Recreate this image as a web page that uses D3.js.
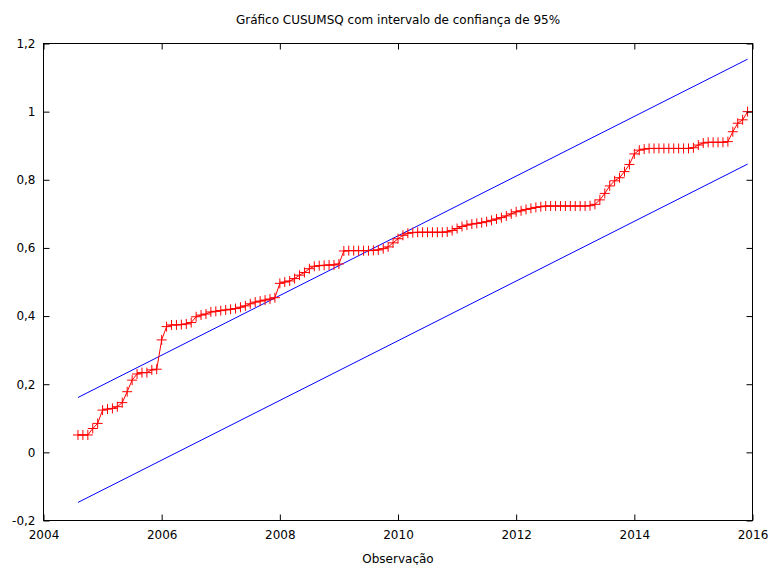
<!DOCTYPE html>
<html>
<head>
<meta charset="utf-8">
<script src="https://cdn.jsdelivr.net/npm/d3@7"></script>
<style>
  html, body { margin: 0; padding: 0; background: #fff; }
  svg { display: block; font-family: "DejaVu Sans", Verdana, sans-serif; }
</style>
</head>
<body>
<svg id="chart" width="774" height="565"></svg>
<script>
// CUSUMSQ statistic, monthly, from Aug 2004 to Dec 2015
const firstYear = 2004;
const firstMonth = 8;
const cusumsq = [
  0.051, 0.051, 0.051, 0.070, 0.085, 0.124, 0.127, 0.129, 0.134, 0.146,
  0.178, 0.212, 0.230, 0.234, 0.234, 0.242, 0.244, 0.330, 0.369, 0.374,
  0.374, 0.375, 0.377, 0.381, 0.398, 0.403, 0.406, 0.412, 0.414, 0.416,
  0.418, 0.420, 0.422, 0.426, 0.430, 0.436, 0.441, 0.444, 0.447, 0.450,
  0.454, 0.496, 0.500, 0.503, 0.510, 0.520, 0.528, 0.539, 0.546, 0.548,
  0.549, 0.550, 0.550, 0.553, 0.591, 0.592, 0.592, 0.592, 0.592, 0.592,
  0.593, 0.594, 0.598, 0.603, 0.615, 0.627, 0.637, 0.643, 0.645, 0.646,
  0.646, 0.646, 0.646, 0.646, 0.646, 0.647, 0.651, 0.657, 0.663, 0.667,
  0.670, 0.672, 0.674, 0.677, 0.681, 0.685, 0.689, 0.694, 0.700, 0.706,
  0.709, 0.713, 0.716, 0.719, 0.721, 0.723, 0.723, 0.723, 0.723, 0.723,
  0.723, 0.723, 0.723, 0.723, 0.724, 0.728, 0.741, 0.760, 0.782, 0.797,
  0.806, 0.824, 0.845, 0.876, 0.887, 0.890, 0.892, 0.892, 0.892, 0.892,
  0.892, 0.892, 0.892, 0.892, 0.892, 0.894, 0.902, 0.908, 0.910, 0.910,
  0.910, 0.910, 0.912, 0.941, 0.966, 0.976, 1.000
];
// 95% confidence band, values at the first and last observation
const upperBound = [0.161, 1.154];
const lowerBound = [-0.147, 0.846];

const xTicks = [2004, 2006, 2008, 2010, 2012, 2014, 2016];
const yTicks = [-0.2, 0, 0.2, 0.4, 0.6, 0.8, 1, 1.2];
const yTickLabels = ["-0,2", "0", "0,2", "0,4", "0,6", "0,8", "1", "1,2"];

const titleText = "Gráfico CUSUMSQ com intervalo de confiança de 95%";
const xTitle = "Observação";

// decimal-year time of each observation
const times = cusumsq.map((_, i) => firstYear + (firstMonth - 1 + i) / 12);
const series = cusumsq.map((v, i) => ({ t: times[i], v }));
const tFirst = times[0], tLast = times[times.length - 1];

const svg = d3.select("#chart");
const plotL = 43.5, plotR = 752.5, plotT = 43.5, plotB = 520.5;

const x = d3.scaleLinear().domain([2004, 2016]).range([plotL, plotR]);
const y = d3.scaleLinear().domain([-0.2, 1.2]).range([plotB, plotT]);
const fmtY = d => yTickLabels[yTicks.indexOf(d)];

// title
svg.append("text")
  .attr("x", (plotL + plotR) / 2).attr("y", 24)
  .attr("text-anchor", "middle").attr("font-size", 12)
  .text(titleText);

// confidence band lines
const bandLine = d3.line().x(d => x(d[0])).y(d => y(d[1]));
[upperBound, lowerBound].forEach(b => {
  svg.append("path")
    .datum([[tFirst, b[0]], [tLast, b[1]]])
    .attr("d", bandLine)
    .attr("fill", "none").attr("stroke", "#0000ff").attr("stroke-width", 1);
});

// CUSUMSQ line
svg.append("path")
  .datum(series)
  .attr("d", d3.line().x(d => x(d.t)).y(d => y(d.v)))
  .attr("fill", "none").attr("stroke", "#ff0000").attr("stroke-width", 1);

// cross markers
svg.append("g").selectAll("path")
  .data(series).join("path")
  .attr("transform", d => `translate(${x(d.t)},${y(d.v)})`)
  .attr("d", "M-5,0H5M0,-5V5")
  .attr("stroke", "#ff0000").attr("stroke-width", 1).attr("fill", "none");

// axes with inward ticks on all four sides
function styleAxis(g) {
  g.select(".domain").remove();
  g.selectAll(".tick line").attr("stroke", "#000");
  g.selectAll(".tick text").attr("fill", "#000").attr("font-size", 12)
    .attr("font-family", "DejaVu Sans, Verdana, sans-serif");
}
svg.append("g").attr("transform", `translate(0,${plotB})`)
  .call(d3.axisBottom(x).tickValues(xTicks).tickFormat(d3.format("d"))
    .tickSizeInner(-6).tickSizeOuter(0).tickPadding(10))
  .call(styleAxis);
svg.append("g").attr("transform", `translate(0,${plotT})`)
  .call(d3.axisTop(x).tickValues(xTicks).tickFormat("")
    .tickSizeInner(-6).tickSizeOuter(0))
  .call(styleAxis);
svg.append("g").attr("transform", `translate(${plotL},0)`)
  .call(d3.axisLeft(y).tickValues(yTicks).tickFormat(fmtY)
    .tickSizeInner(-6).tickSizeOuter(0).tickPadding(8))
  .call(styleAxis);
svg.append("g").attr("transform", `translate(${plotR},0)`)
  .call(d3.axisRight(y).tickValues(yTicks).tickFormat("")
    .tickSizeInner(-6).tickSizeOuter(0))
  .call(styleAxis);

// plot frame
svg.append("rect")
  .attr("x", plotL).attr("y", plotT)
  .attr("width", plotR - plotL).attr("height", plotB - plotT)
  .attr("fill", "none").attr("stroke", "#000").attr("stroke-width", 1);

// x axis title
svg.append("text")
  .attr("x", (plotL + plotR) / 2).attr("y", 563)
  .attr("text-anchor", "middle").attr("font-size", 12)
  .text(xTitle);
</script>
</body>
</html>
